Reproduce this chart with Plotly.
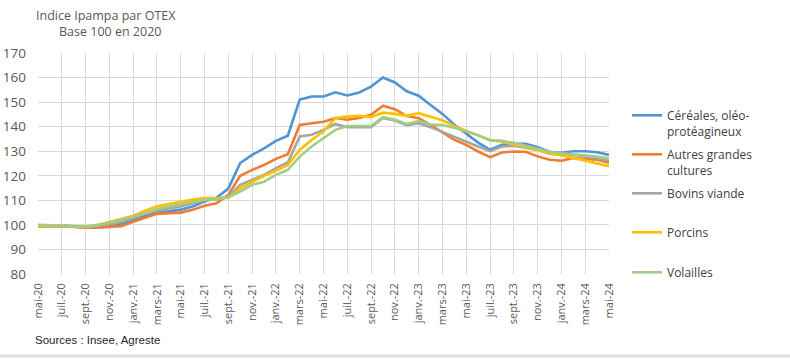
import plotly.graph_objects as go

names_cycle = ["mai", "juin", "juil.", "août", "sept.", "oct.", "nov.", "déc.",
               "janv.", "févr.", "mars", "avr."]
months = []
yr = 20
for i in range(49):
    nm = names_cycle[i % 12]
    if nm == "janv." and i > 0:
        yr += 1
    months.append(f"{nm}-{yr}")

tick_labels = months[::2]

cereales = [99.5, 99.7, 99.6, 99.4, 99.0, 99.0, 99.3, 100.5, 102.0, 103.5, 105.0, 105.5,
            106.2, 107.5, 109.5, 111.0, 114.8, 125.2, 128.5, 131.2, 134.2, 136.3, 151.0,
            152.3, 152.3, 154.0, 152.7, 153.9, 156.3, 160.0, 158.0, 154.4, 152.6, 148.8,
            145.2, 140.8, 137.0, 133.5, 130.6, 132.6, 133.0, 133.0, 131.6, 129.8, 129.4,
            130.0, 130.0, 129.6, 128.5]
autres = [99.5, 99.6, 99.5, 99.2, 98.9, 99.0, 99.2, 99.5, 101.3, 103.0, 104.5, 104.8,
          105.0, 106.2, 107.8, 108.8, 112.2, 120.0, 122.4, 124.4, 126.9, 128.8, 140.7,
          141.4, 142.0, 143.5, 142.8, 143.5, 144.8, 148.5, 147.1, 144.3, 143.4, 140.7,
          137.6, 134.6, 132.6, 129.9, 127.6, 129.5, 129.9, 129.8, 127.9, 126.5, 126.1,
          127.2, 126.9, 126.5, 125.3]
bovins = [99.8, 99.8, 99.6, 99.4, 99.2, 99.6, 100.3, 101.2, 102.7, 104.5, 105.9, 106.6,
          107.5, 108.7, 110.0, 110.5, 111.5, 116.3, 118.3, 120.4, 123.1, 125.4, 136.0,
          136.7, 138.7, 141.1, 139.8, 139.8, 139.8, 143.5, 142.5, 140.6, 141.4, 139.8,
          137.8, 135.6, 133.8, 131.9, 130.0, 131.9, 132.2, 131.2, 130.5, 129.0, 128.5,
          128.5, 128.0, 127.0, 126.1]
porcins = [99.6, 99.7, 99.6, 99.3, 99.2, 100.0, 101.3, 102.3, 103.7, 105.8, 107.5, 108.5,
           109.5, 110.3, 110.9, 110.8, 111.0, 115.0, 117.6, 120.0, 122.0, 124.4, 130.5,
           134.6, 138.0, 143.5, 144.1, 144.4, 143.9, 145.7, 145.2, 144.4, 145.5, 143.9,
           142.6, 140.2, 138.4, 136.3, 134.6, 133.9, 132.6, 131.6, 130.5, 129.2, 128.4,
           127.2, 126.0, 125.0, 123.9]
volailles = [100.0, 99.9, 99.7, 99.4, 99.3, 99.9, 100.9, 102.0, 103.3, 105.0, 106.4, 107.5,
             108.5, 109.5, 110.3, 110.5, 111.3, 113.6, 116.3, 117.6, 120.4, 122.4, 127.8,
             131.9, 135.3, 138.7, 140.3, 140.3, 140.3, 143.9, 142.8, 141.1, 142.3, 140.9,
             140.7, 139.6, 138.0, 136.5, 134.4, 134.2, 133.4, 132.2, 130.8, 129.8, 129.2,
             128.8, 128.4, 127.8, 127.1]

series_names = ["Céréales, oléo-<br>protéagineux", "Autres grandes<br>cultures",
                "Bovins viande", "Porcins", "Volailles"]
series_values = [cereales, autres, bovins, porcins, volailles]
colors = ["#5094D3", "#ED7D31", "#A5A5A5", "#FFC000", "#A2CD85"]
legend_ids = ["legend", "legend2", "legend3", "legend4", "legend5"]

fig = go.Figure()
for name, vals, col, lg in zip(series_names, series_values, colors, legend_ids):
    fig.add_trace(go.Scatter(x=months, y=vals, mode="lines", name=name,
                             line=dict(color=col, width=2.6), legend=lg))

# plot area in pixels: x 38..609, y 53..274
L, R, T, B = 38, 609, 53, 274
W, H = 790, 361


def px_x(p):
    return (p - L) / (R - L)


def px_y(p):
    return (B - p) / (B - T)


legend_tops = [101, 140, 179, 218, 258]
legend_font = dict(family="Open Sans, sans-serif", size=12, color="#404040")
layout_legends = {}
for lg, top in zip(legend_ids, legend_tops):
    layout_legends[lg] = dict(x=px_x(627), y=px_y(top), xanchor="left", yanchor="top",
                              xref="paper", yref="paper", font=legend_font,
                              bgcolor="rgba(0,0,0,0)", borderwidth=0, valign="top",
                              itemwidth=30)

fig.update_layout(
    width=W, height=H,
    margin=dict(l=L, r=W - R, t=T, b=H - B, pad=0, autoexpand=False),
    paper_bgcolor="white", plot_bgcolor="white",
    font=dict(family="Open Sans, sans-serif", color="#595959"),
    showlegend=True,
    **layout_legends,
)

fig.update_xaxes(type="category", range=[0, 48], tickmode="array",
                 tickvals=tick_labels, ticktext=tick_labels, tickangle=-90,
                 tickfont=dict(size=11, color="#595959"), automargin=False,
                 ticklabelstandoff=6,
                 showgrid=True, gridcolor="#D9D9D9", gridwidth=1,
                 showline=False, zeroline=False, ticks="", ticklen=0)
fig.update_yaxes(range=[80, 170], dtick=10, tick0=80, automargin=False,
                 tickfont=dict(size=13.5, color="#595959"), ticklabelstandoff=11,
                 showgrid=True, gridcolor="#D9D9D9", gridwidth=1,
                 showline=False, zeroline=False, ticks="")

fig.add_annotation(text="Indice Ipampa par OTEX", xref="paper", yref="paper",
                   x=px_x(34), y=px_y(5), xanchor="left", yanchor="top",
                   showarrow=False, font=dict(size=12.5, color="#595959"))
fig.add_annotation(text="Base 100 en 2020", xref="paper", yref="paper",
                   x=px_x(57), y=px_y(21), xanchor="left", yanchor="top",
                   showarrow=False, font=dict(size=12.5, color="#595959"))
fig.add_annotation(text="Sources : Insee, Agreste", xref="paper", yref="paper",
                   x=px_x(33), y=px_y(332), xanchor="left", yanchor="top",
                   showarrow=False,
                   font=dict(family="Liberation Sans Narrow, Arial Narrow, sans-serif",
                             size=11.5, color="#262626"))
fig.add_shape(type="line", xref="paper", yref="paper", x0=px_x(0), x1=px_x(790),
              y0=px_y(356), y1=px_y(356), line=dict(color="#E0E0E0", width=3))

fig.write_html("out.html", config={"displayModeBar": False},
               post_script="document.body.style.margin='0';")
